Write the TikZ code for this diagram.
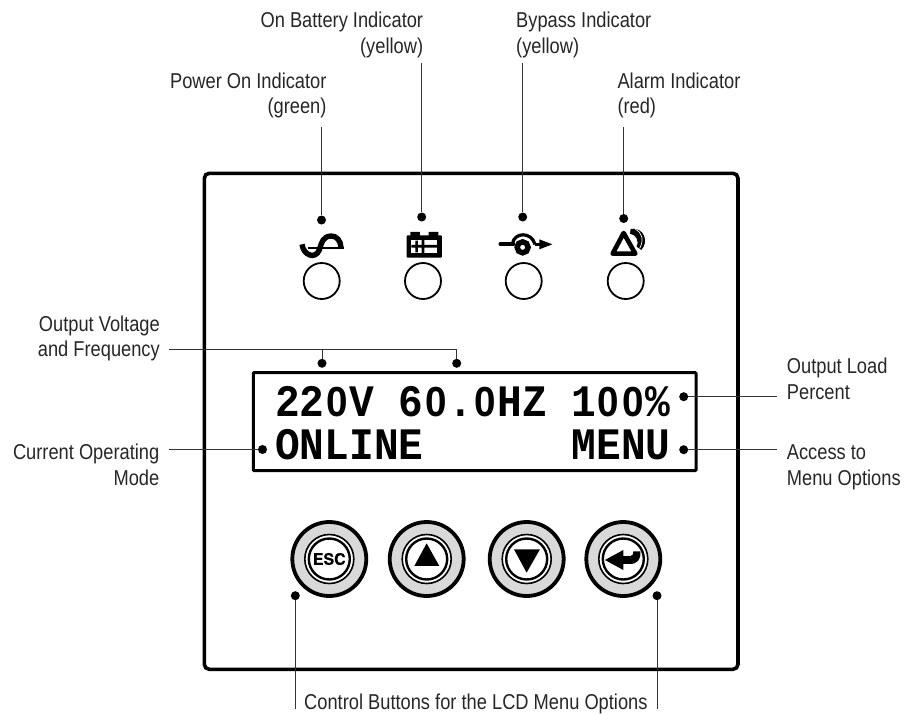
\documentclass[tikz,border=0pt]{standalone}
\usepackage{fontspec}
\setmainfont[FakeStretch=0.85]{Liberation Sans}
\newfontfamily\lcdfont[FakeStretch=0.915]{Liberation Mono Bold}
\newfontfamily\zerofont[FakeStretch=0.92]{Liberation Sans Bold}
\newfontfamily\btnfont[FakeBold=0.6]{TeX Gyre Heros Bold}
\newcommand\Zr{\makebox[24.7pt][c]{\zerofont\fontsize{42}{42}\selectfont 0}}
\definecolor{leadc}{gray}{0.2}
\definecolor{ringc}{gray}{0.85}
\tikzset{
  leader/.style={draw=leadc,line width=0.9pt},
  leaddot/.style={circle,fill=black,draw=none,inner sep=0pt,minimum size=9pt},
  lbl/.style={inner sep=0pt,text=black!85,font=\fontsize{21.5}{25.3}\selectfont},
  lcdtxt/.style={inner sep=0pt,anchor=base west,font=\lcdfont\fontsize{45}{45}\selectfont},
  ledc/.style={circle,draw=black,line width=1.8pt,fill=white,inner sep=0pt,minimum size=36pt},
  btnouter/.style={circle,draw=black,line width=3.8pt,fill=ringc,inner sep=0pt,minimum size=74pt},
  btnmid/.style={circle,draw=black,line width=1.6pt,fill=white,inner sep=0pt,minimum size=49pt},
  btninner/.style={circle,draw=black,line width=2.4pt,fill=white,inner sep=0pt,minimum size=41pt},
  heavy/.style={draw=black,line width=3.6pt},
}
\begin{document}
\begin{tikzpicture}[x=1pt,y=-1pt]
\useasboundingbox (0,0) rectangle (911,715);
% panel
\draw[heavy,rounded corners=5pt] (204.3,173.3) rectangle (738,669.3);
\draw[heavy,line width=3pt,rounded corners=1pt] (253.3,372.5) rectangle (696,470.7);
% LCD text
\node[lcdtxt] (lcdA) at (275,416.7) {22\Zr{}V 6\Zr{}.\Zr{}HZ 1\Zr\Zr\%};
\node[lcdtxt] (lcdB) at (275,459.3) {ONLINE\hspace{148.2pt}MENU};
% LEDs
\foreach \n/\x in {a/321.7,b/423,c/523.7,d/625.7} \node[ledc] (led\n) at (\x,281) {};
% buttons
\foreach \n/\x in {a/329.3,b/426.7,c/526.7,d/623.3}{
  \node[btnouter] (btn\n) at (\x,559) {};
  \node[btnmid] at (\x,559) {};
  \node[btninner] at (\x,559) {};
}
\node[inner sep=0pt,font=\btnfont\fontsize{16}{16}\selectfont] (esc) at (btna) {ESC};
\begin{scope}[shift={(280,500)},x=0.3333pt,y=-0.3333pt]
  \fill (440,130) -- (403,198) -- (478,198) -- cycle;
  \fill (740,218) -- (702,148) -- (780,148) -- cycle;
  \fill (975,180) -- (1030,150) -- (1030,168) -- (1052,168) .. controls (1060,168) and (1060,160) .. (1060,154) -- (1081,154) .. controls (1084,178) and (1072,192) .. (1050,192) -- (1030,192) -- (1030,210) -- cycle;
\end{scope}
% icons
\begin{scope}[shift={(280,200)},x=0.3333pt,y=-0.3333pt]
  % sine
  \draw[line width=1.8pt] (85,143) -- (192,143);
  \draw[line width=5.4pt] (66,133) .. controls (70,165) and (105,180) .. (118,150) .. controls (125,125) and (130,110) .. (152,108) .. controls (170,107) and (182,122) .. (183,142);
  % battery
  \fill[rounded corners=1pt] (380,106) rectangle (486,173);
  \fill (391,96) rectangle (420,110) (446,96) rectangle (475,110);
  \fill[white] (394,120) rectangle (472,159);
  \fill (394,135) rectangle (472,143) (406,122) rectangle (414,157) (425,120) rectangle (433,159);
  % bypass
  \draw[line width=4.4pt,line cap=round] (662,132) -- (700,132);
  \draw[line width=3.2pt] (697,132) .. controls (703,95) and (755,95) .. (765,133);
  \draw[line width=3pt] (765,133) -- (785,133);
  \fill (778,118) -- (817,133) -- (778,148) -- cycle;
  \draw[line width=5.4pt,fill=white] (728,142) circle [radius=16.5];
  % alarm
  \draw[line width=4.6pt,line join=round] (1031,99) -- (1066,161) -- (998,161) -- cycle;
  \fill (1052,87) .. controls (1092,80) and (1108,125) .. (1084,150) -- (1070,140) .. controls (1078,125) and (1070,104) .. (1050,101) -- cycle;
  \draw[white,line width=0.7pt] (1066,88) .. controls (1088,98) and (1092,122) .. (1079,145);
\end{scope}
% dots
\node[leaddot] (dPower) at (321.5,220) {};
\node[leaddot] (dBatt) at (421.7,217) {};
\node[leaddot] (dByp) at (522.7,217) {};
\node[leaddot] (dAlarm) at (623.7,218.5) {};
\node[leaddot] (dV) at (322,363.3) {};
\node[leaddot] (dF) at (456.7,363.3) {};
\node[leaddot] (dLoad) at (683.7,396.7) {};
\node[leaddot] (dMenu) at (683.7,449.7) {};
\node[leaddot] (dMode) at (262.5,449.5) {};
\node[leaddot] (dEsc) at (295.3,595.7) {};
\node[leaddot] (dEnt) at (657,595.7) {};
% labels (multi-line nodes: base = last line)
\node[lbl,anchor=base east,align=right] (tPower) at (326.7,113.5) {Power On Indicator\\(green)};
\node[lbl,anchor=base east,align=right] (tBatt) at (423.3,53) {On Battery Indicator\\(yellow)};
\node[lbl,anchor=base west,align=left] (tByp) at (516,53) {Bypass Indicator\\(yellow)};
\node[lbl,anchor=base west,align=left] (tAlarm) at (617.3,113.5) {Alarm Indicator\\(red)};
\node[lbl,anchor=base east,align=right] (tVolt) at (160,356.7) {Output Voltage\\and Frequency};
\node[lbl,anchor=base east,align=right] (tMode) at (159.5,485) {Current Operating\\Mode};
\node[lbl,anchor=base west,align=left] (tLoad) at (786.7,399) {Output Load\\Percent};
\node[lbl,anchor=base west,align=left] (tMenu) at (786.7,485) {Access to\\Menu Options};
\node[lbl,anchor=base west] (tCtl) at (304,709) {Control Buttons for the LCD Menu Options};
% free ends
\coordinate (cPower) at (321.5,127);
\coordinate (cBatt) at (421.7,63);
\coordinate (cByp) at (522.7,63);
\coordinate (cAlarm) at (623.7,127);
\coordinate (cVolt) at (169,349);
\coordinate (cMode) at (169,449.5);
\coordinate (cLoad) at (777,396.7);
\coordinate (cMenu) at (777,449.7);
\coordinate (cEsc) at (295.3,709);
\coordinate (cEnt) at (657,709);
% connectors
\draw[leader] (cPower) -- (dPower);
\draw[leader] (cBatt) -- (dBatt);
\draw[leader] (cByp) -- (dByp);
\draw[leader] (cAlarm) -- (dAlarm);
\draw[leader] (dV) |- (cVolt);
\draw[leader] (dF) |- (cVolt);
\draw[leader] (cMode) -- (dMode);
\draw[leader] (dLoad) -- (cLoad);
\draw[leader] (dMenu) -- (cMenu);
\draw[leader] (dEsc) -- (cEsc);
\draw[leader] (dEnt) -- (cEnt);
\end{tikzpicture}
\end{document}
